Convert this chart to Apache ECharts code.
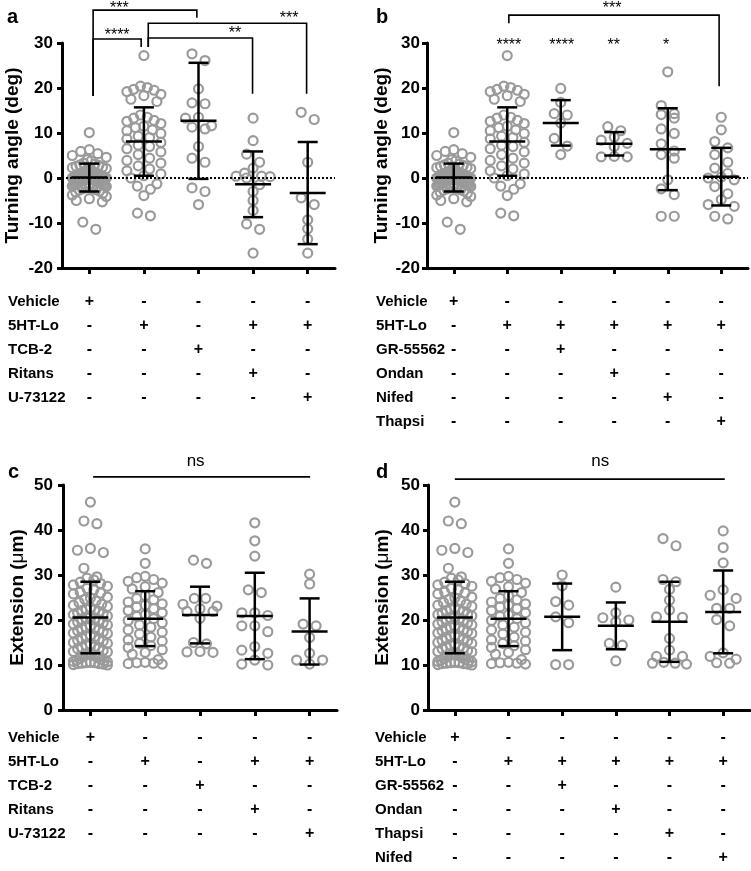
<!DOCTYPE html>
<html><head><meta charset="utf-8">
<script src="https://cdn.jsdelivr.net/npm/echarts@6/dist/echarts.min.js"></script>
<style>html,body{margin:0;padding:0;background:#fff}#c{width:751px;height:871px}</style>
</head><body><div id="c"></div>
<script>
// ---------------- DATA ----------------
// Turning angle (deg)
const angVehicle = [10.1, 6.3, 5.9, 5.4, 5.0, 4.6, 4.1, 3.8, 3.3, 3.1, 2.9, 2.8, 2.6, 2.4, 2.3, 2.1, 1.9, 1.8, 1.7, 1.6, 1.5, 1.4, 1.3, 1.2, 1.1, 1.0, 0.9, 0.8, 0.7, 0.6, 0.6, 0.5, 0.4, 0.4, 0.3, 0.3, 0.2, 0.2, 0.1, 0.1, 0.0, 0.0, 0.0, -0.1, -0.1, -0.2, -0.3, -0.3, -0.4, -0.5, -0.6, -0.6, -0.7, -0.8, -0.9, -1.0, -1.1, -1.2, -1.3, -1.4, -1.5, -1.6, -1.7, -1.8, -1.9, -2.1, -2.2, -2.3, -2.4, -2.6, -2.7, -2.9, -3.1, -3.4, -3.8, -4.1, -4.6, -5.0, -5.3, -9.8, -11.4];
const ang5HT = [27.2, 20.4, 20.1, 19.7, 19.5, 19.2, 18.6, 18.3, 17.5, 17.0, 14.0, 13.5, 13.3, 12.8, 12.6, 12.1, 11.5, 11.2, 10.7, 10.5, 9.9, 9.3, 9.0, 8.7, 7.9, 7.3, 7.0, 6.5, 5.8, 5.2, 4.4, 3.9, 3.3, 2.7, 2.0, 1.6, 0.9, 0.5, 0.0, -1.3, -1.8, -2.5, -3.9, -7.8, -8.4];
const angTCB2 = [27.6, 26.1, 19.8, 16.7, 16.5, 13.5, 13.3, 11.6, 11.3, 10.9, 7.0, 4.4, 3.5, -2.2, -3.0, -5.9];
const angRitans = [13.3, 8.3, 5.3, 3.5, 2.2, 1.1, 0.4, 0.4, 0.0, 0.3, -1.5, -3.0, -5.0, -7.2, -10.2, -11.4, -16.7];
const angU73122 = [14.6, 13.0, 3.5, -4.4, -5.9, -9.3, -11.3, -13.6, -16.7];
const angGR = [19.9, 16.8, 14.3, 14.0, 12.2, 8.8, 7.1, 5.2];
const angOndan = [11.4, 10.5, 9.1, 8.4, 7.7, 7.0, 4.8, 4.7, 4.7];
const angNifed = [23.6, 16.1, 14.3, 14.1, 13.3, 10.9, 9.9, 7.6, 6.0, 5.2, 4.4, -0.4, -2.4, -3.7, -8.5, -8.5];
const angThapsi = [13.5, 10.7, 8.1, 6.7, 5.2, 3.5, 2.2, 1.0, 0.2, 0.0, -0.4, -1.9, -3.5, -4.8, -5.9, -6.3, -8.5, -9.1];

// Extension (um)
const extVehicle = [46.2, 42.0, 41.4, 35.9, 35.5, 35.0, 31.5, 29.6, 29.3, 28.9, 28.4, 28.1, 27.8, 27.5, 27.0, 26.7, 26.2, 26.0, 25.8, 25.1, 24.9, 24.6, 24.2, 23.9, 23.5, 23.3, 23.0, 22.8, 22.4, 22.3, 22.1, 21.9, 21.6, 21.4, 21.2, 20.9, 20.8, 20.5, 20.3, 20.1, 19.9, 19.6, 19.4, 19.1, 18.9, 18.7, 18.4, 18.2, 18.0, 17.8, 17.6, 17.4, 17.1, 17.0, 16.6, 16.4, 16.3, 15.9, 15.7, 15.5, 15.3, 15.0, 14.8, 14.6, 14.4, 14.1, 13.9, 13.7, 13.6, 13.2, 13.0, 12.9, 12.6, 12.4, 12.2, 12.0, 11.8, 11.6, 11.4, 11.2, 11.1, 10.9, 10.8, 10.7, 10.6, 10.5, 10.5, 10.4, 10.3, 10.3, 10.2, 10.1, 10.0];
const ext5HT = [35.8, 32.6, 29.7, 29.4, 29.0, 28.6, 28.2, 27.4, 26.9, 26.1, 25.4, 24.8, 24.5, 24.0, 23.6, 23.3, 22.9, 22.5, 22.1, 21.6, 21.2, 20.8, 20.3, 19.9, 19.4, 18.9, 18.4, 17.8, 17.3, 16.9, 16.2, 15.6, 15.3, 14.8, 14.3, 13.9, 13.4, 12.8, 12.4, 11.2, 10.6, 10.5, 10.4, 10.3, 10.2];
const extTCB2 = [33.3, 32.6, 24.8, 24.8, 23.5, 23.1, 22.5, 21.9, 21.9, 20.4, 15.0, 14.7, 13.0, 12.9, 12.8];
const extRitans = [41.6, 37.6, 34.2, 26.7, 26.1, 21.6, 21.6, 21.0, 18.7, 18.7, 17.4, 14.1, 13.3, 12.6, 11.1, 10.2, 10.0];
const extU73122 = [30.2, 28.0, 19.1, 18.7, 16.1, 12.6, 11.1, 11.1, 10.2];
const extGR = [30.0, 27.6, 24.1, 23.3, 20.7, 19.4, 10.1, 10.1];
const extOndan = [27.3, 21.6, 20.5, 20.0, 19.6, 14.8, 14.4, 10.9];
const extThapsi = [38.1, 36.5, 29.0, 28.5, 26.8, 24.4, 22.2, 20.7, 20.6, 15.9, 13.3, 11.9, 11.9, 10.6, 10.4, 10.4, 10.2];
const extNifed = [39.8, 36.1, 32.7, 26.7, 25.5, 24.8, 22.6, 22.6, 20.1, 18.7, 12.7, 11.9, 11.3, 10.5, 10.4];

// mean and SD as drawn
const meanA = [0.1, 8.1, 12.7, -1.4, -3.35];
const sdA   = [3.1, 7.6, 12.9, 7.3, 11.35];
const meanB = [0.1, 8.1, 12.25, 7.6, 6.4, 0.3];
const sdB   = [3.1, 7.6, 5.05, 2.6, 9.1, 6.4];
const meanC = [20.55, 20.3, 21.1, 20.9, 17.45];
const sdC   = [7.95, 6.1, 6.3, 9.6, 7.35];
const meanD = [20.55, 20.3, 20.7, 18.7, 19.6, 21.8];
const sdD   = [7.95, 6.1, 7.4, 5.2, 8.9, 9.2];

// treatment tables
const rowsA = ['Vehicle', '5HT-Lo', 'TCB-2', 'Ritans', 'U-73122'];
const signsA = [
  ['+', '-', '-', '-', '-'],
  ['-', '+', '-', '+', '+'],
  ['-', '-', '+', '-', '-'],
  ['-', '-', '-', '+', '-'],
  ['-', '-', '-', '-', '+']
];
const rowsB = ['Vehicle', '5HT-Lo', 'GR-55562', 'Ondan', 'Nifed', 'Thapsi'];
const signsB = [
  ['+', '-', '-', '-', '-', '-'],
  ['-', '+', '+', '+', '+', '+'],
  ['-', '-', '+', '-', '-', '-'],
  ['-', '-', '-', '+', '-', '-'],
  ['-', '-', '-', '-', '+', '-'],
  ['-', '-', '-', '-', '-', '+']
];
const rowsD = ['Vehicle', '5HT-Lo', 'GR-55562', 'Ondan', 'Thapsi', 'Nifed'];
const signsD = [
  ['+', '-', '-', '-', '-', '-'],
  ['-', '+', '+', '+', '+', '+'],
  ['-', '-', '+', '-', '-', '-'],
  ['-', '-', '-', '+', '-', '-'],
  ['-', '-', '-', '-', '+', '-'],
  ['-', '-', '-', '-', '-', '+']
];
const yTicksAngle = { min: -20, max: 30, interval: 10 };
const yTicksExt = { min: 0, max: 50, interval: 10 };

// significance annotations: brackets [x1, x2, top, leftEnd, rightEnd] (category units / data units), labels [x, y, text]
const bracketsA = [[0.07, 1.97, 37.3, 18.2, 35.6], [0.07, 0.95, 30.9, 18.2, 29.1], [1.08, 3.98, 34.4, 29.1, 18.7], [1.08, 2.99, 31.1, 29.1, 18.7]];
const labelsA = [[0.55, 38.4, '***'], [0.51, 32.4, '****'], [3.66, 36.2, '***'], [2.67, 32.9, '**']];
const bracketsB = [[1.03, 4.96, 36.2, 34.4, 20.4]];
const labelsB = [[2.96, 38.4, '***'], [1.03, 30.3, '****'], [2.02, 30.3, '****'], [2.99, 30.3, '**'], [3.97, 30.3, '*']];
const bracketsC = [[0.05, 4.01, 51.8, 51.8, 51.8]];
const labelsC = [[1.92, 55.2, 'ns']];
const bracketsD = [[0.0, 5.03, 51.3, 51.3, 51.3]];
const labelsD = [[2.71, 55.2, 'ns']];

// ---------------- LAYOUT / STYLE ----------------
const FONT = '"Liberation Sans", Arial, Helvetica, sans-serif';
const DOT = '#9a9a9a';

const panels = [
  { letter: 'a', letterXY: [7, 17], grid: { left: 62, top: 43, width: 273, height: 225 },
    groups: [angVehicle, ang5HT, angTCB2, angRitans, angU73122], mean: meanA, sd: sdA,
    rows: rowsA, signs: signsA, ticks: yTicksAngle, name: 'Turning angle (deg)', nameGap: 40,
    labelMargin: 9, signMargin: 22, rowX: 8, zero: true, brackets: bracketsA, labels: labelsA },
  { letter: 'b', letterXY: [376, 17], grid: { left: 427, top: 43, width: 321, height: 225 },
    groups: [angVehicle, ang5HT, angGR, angOndan, angNifed, angThapsi], mean: meanB, sd: sdB,
    rows: rowsB, signs: signsB, ticks: yTicksAngle, name: 'Turning angle (deg)', nameGap: 35,
    labelMargin: 7, signMargin: 22, rowX: 376, zero: true, brackets: bracketsB, labels: labelsB },
  { letter: 'c', letterXY: [8, 472], grid: { left: 63, top: 485, width: 274, height: 225 },
    groups: [extVehicle, ext5HT, extTCB2, extRitans, extU73122], mean: meanC, sd: sdC,
    rows: rowsA, signs: signsA, ticks: yTicksExt, name: 'Extension ({mu|\u03bc}m)', nameGap: 36,
    labelMargin: 10, signMargin: 16, rowX: 8, zero: false, brackets: bracketsC, labels: labelsC },
  { letter: 'd', letterXY: [376, 472], grid: { left: 428, top: 485, width: 322, height: 225 },
    groups: [extVehicle, ext5HT, extGR, extOndan, extThapsi, extNifed], mean: meanD, sd: sdD,
    rows: rowsD, signs: signsD, ticks: yTicksExt, name: 'Extension ({mu|\u03bc}m)', nameGap: 36,
    labelMargin: 8, signMargin: 16, rowX: 375, zero: false, brackets: bracketsD, labels: labelsD }
];

// GraphPad-like column scatter: bin by value, spread points horizontally within bins
function swarmOffsets(vals, binSize, step, maxHalf) {
  const idx = vals.map((v, i) => i).sort((a, b) => vals[b] - vals[a]);
  const off = new Array(vals.length).fill(0);
  let i = 0;
  while (i < idx.length) {
    let j = i;
    const start = vals[idx[i]];
    while (j < idx.length && start - vals[idx[j]] < binSize) j++;
    const k = j - i;
    const s = k > 1 ? Math.min(step, 2 * maxHalf / (k - 1)) : 0;
    const slots = [];
    for (let q = 0; q < k; q++) slots.push((q - (k - 1) / 2) * s);
    slots.sort((a, b) => Math.abs(a) - Math.abs(b) || a - b);
    for (let q = 0; q < k; q++) off[idx[i + q]] = slots[q];
    i = j;
  }
  return off;
}

const grids = [], xAxes = [], yAxes = [], series = [], graphics = [];
panels.forEach((p, pi) => {
  grids.push(Object.assign({ outerBoundsMode: 'none', containLabel: false }, p.grid));
  const cols = p.groups.map((_, j) => p.signs.map(r => r[j]).join('\n'));
  xAxes.push({
    type: 'category', gridIndex: pi, data: cols, boundaryGap: true,
    axisLine: { show: true, onZero: false, lineStyle: { color: '#000', width: 3 } },
    axisTick: { show: true, alignWithLabel: true, length: 6, lineStyle: { color: '#000', width: 3 } },
    axisLabel: { show: true, interval: 0, hideOverlap: false, margin: p.signMargin, color: '#000',
      fontSize: 16, fontWeight: 'bold', fontFamily: FONT, lineHeight: 24 },
    splitLine: { show: false }
  });
  yAxes.push({
    type: 'value', gridIndex: pi, min: p.ticks.min, max: p.ticks.max, interval: p.ticks.interval,
    name: p.name, nameLocation: 'middle', nameGap: p.nameGap, nameRotate: 90,
    nameTextStyle: { color: '#000', fontSize: 19, fontWeight: 'bold', fontFamily: FONT,
      rich: { mu: { fontSize: 19, fontWeight: 'normal', fontFamily: FONT, color: '#000' } } },
    axisLine: { show: true, onZero: false, lineStyle: { color: '#000', width: 3 } },
    axisTick: { show: true, length: 5, lineStyle: { color: '#000', width: 3 } },
    axisLabel: { show: true, margin: p.labelMargin, color: '#000', fontSize: 17, fontWeight: 'bold',
      fontFamily: FONT, showMinLabel: true, showMaxLabel: true, hideOverlap: false },
    splitLine: { show: false }
  });
  // dots
  const dots = [];
  p.groups.forEach((vals, g) => {
    const off = swarmOffsets(vals, 2.0, 13, 17);
    vals.forEach((v, k) => dots.push({ value: [g, v], symbolOffset: [off[k], 0] }));
  });
  series.push({
    type: 'scatter', xAxisIndex: pi, yAxisIndex: pi, data: dots, symbol: 'circle', symbolSize: 9,
    itemStyle: { color: 'rgba(0,0,0,0)', borderColor: DOT, borderWidth: 2.2, opacity: 1 },
    silent: true, z: 2, emphasis: { disabled: true }
  });
  // mean +/- SD
  const eb = {
    type: 'custom', xAxisIndex: pi, yAxisIndex: pi, z: 4, silent: true,
    data: p.mean.map((m, g) => [g, m, p.sd[g]]),
    encode: { x: 0, y: 1 },
    renderItem: function (params, api) {
      const g = api.value(0), m = api.value(1), s = api.value(2);
      const pm = api.coord([g, m]), pt = api.coord([g, m + s]), pb = api.coord([g, m - s]);
      const st = { stroke: '#000', lineWidth: 2.5 };
      return { type: 'group', children: [
        { type: 'line', shape: { x1: pm[0], y1: pt[1], x2: pm[0], y2: pb[1] }, style: st },
        { type: 'line', shape: { x1: pm[0] - 10, y1: pt[1], x2: pm[0] + 10, y2: pt[1] }, style: st },
        { type: 'line', shape: { x1: pm[0] - 10, y1: pb[1], x2: pm[0] + 10, y2: pb[1] }, style: st },
        { type: 'line', shape: { x1: pm[0] - 18, y1: pm[1], x2: pm[0] + 18, y2: pm[1] }, style: st }
      ] };
    }
  };
  if (p.zero) {
    eb.markLine = { silent: true, symbol: ['none', 'none'], label: { show: false },
      lineStyle: { color: '#000', type: [2, 2], width: 2 }, emphasis: { disabled: true },
      data: [{ yAxis: 0 }] };
  }
  series.push(eb);
  // significance annotations
  const brs = p.brackets, lbs = p.labels;
  series.push({
    type: 'custom', xAxisIndex: pi, yAxisIndex: pi, z: 5, silent: true, clip: false,
    data: [[0, 0]], encode: { x: 0, y: 1 },
    renderItem: function (params, api) {
      const band = api.size([1, 0])[0];
      const x0 = api.coord([0, 0])[0];
      const X = f => x0 + f * band;
      const Y = v => api.coord([0, v])[1];
      const ch = [];
      brs.forEach(b => {
        ch.push({ type: 'polyline', shape: { points: [[X(b[0]), Y(b[3])], [X(b[0]), Y(b[2])], [X(b[1]), Y(b[2])], [X(b[1]), Y(b[4])]] },
          style: { stroke: '#000', lineWidth: 1.6, fill: null } });
      });
      lbs.forEach(l => {
        const star = l[2].indexOf('*') >= 0;
        const fs = star ? 16 : 17;
        ch.push({ type: 'text', x: X(l[0]), y: Y(l[1]) + (star ? fs * 0.24 : 0),
          style: { text: l[2], fill: '#000', font: fs + 'px ' + FONT, align: 'center', verticalAlign: 'middle' } });
      });
      return { type: 'group', children: ch };
    }
  });
  // row labels and panel letter
  graphics.push({ type: 'text', left: p.rowX, top: p.grid.top + p.grid.height + p.signMargin,
    style: { text: p.rows.join('\n'), fill: '#000', font: 'bold 15px ' + FONT, lineHeight: 24 } });
  graphics.push({ type: 'text', x: p.letterXY[0], y: p.letterXY[1],
    style: { text: p.letter, fill: '#000', font: 'bold 20px ' + FONT, verticalAlign: 'middle' } });
});

const chart = echarts.init(document.getElementById('c'), null, { renderer: 'canvas', width: 751, height: 871 });
chart.setOption({
  animation: false,
  backgroundColor: '#fff',
  grid: grids, xAxis: xAxes, yAxis: yAxes, series: series, graphic: graphics
});
</script></body></html>
